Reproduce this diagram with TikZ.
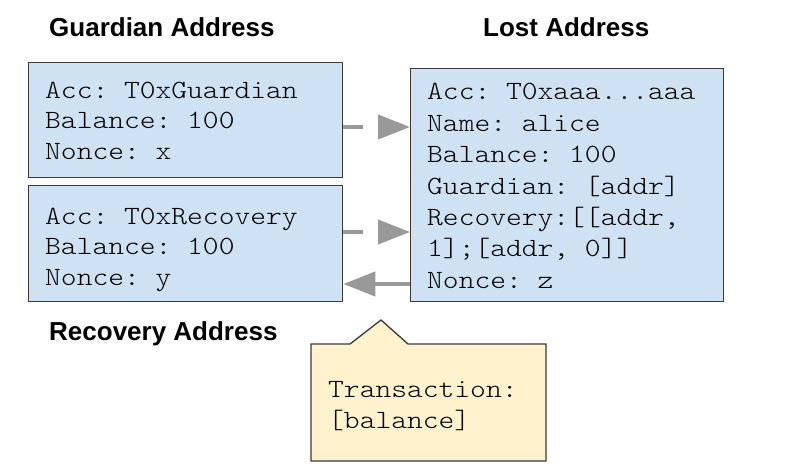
\documentclass[tikz,border=0pt]{standalone}
\usepackage{fontspec}
\setmainfont{Liberation Sans}
\setmonofont[FakeStretch=1.143]{Latin Modern Mono Light}
\usetikzlibrary{arrows.meta}
\definecolor{boxblue}{HTML}{CFE2F3}
\definecolor{boxline}{HTML}{3A3A3A}
\definecolor{noteyellow}{HTML}{FFF2CC}
\definecolor{arrowgray}{HTML}{999999}
\begin{document}
\begin{tikzpicture}[x=1pt,y=-1pt,
  acct/.style={draw=boxline, line width=1.3pt, fill=boxblue, anchor=north west, inner sep=0pt},
  txtline/.style={anchor=base west, inner sep=0pt, font=\fontsize{26.3}{31}\selectfont\ttfamily},
  heading/.style={anchor=base west, inner sep=0pt, font=\fontsize{26}{30}\selectfont\bfseries},
  link/.style={draw=arrowgray, line width=4pt, -{Triangle[length=32pt,width=24pt]}},
  dashlink/.style={link, dash pattern=on 20pt off 15pt},
]
\useasboundingbox (0,0) rectangle (800,470);
% boxes
\node[acct, minimum width=314pt, minimum height=115pt] (g) at (28,62) {};
\node[acct, minimum width=314pt, minimum height=116pt] (r) at (28,185) {};
\node[acct, minimum width=313pt, minimum height=233pt] (l) at (410,68) {};
% headings
\node[heading] (gt) at (49,37) {Guardian Address};
\node[heading] (lt) at (483,37) {Lost Address};
\node[heading] (rt) at (49,340) {Recovery Address};
% texts
\foreach \t [count=\i] in {Acc: T0xGuardian, Balance: 100, Nonce: x}
  \node[txtline] (g\i) at (45, 98.3+30.6*\i-30.6) {\t};
\foreach \t [count=\i] in {Acc: T0xRecovery, Balance: 100, Nonce: y}
  \node[txtline] (r\i) at (45, 224.5+30.4*\i-30.4) {\t};
\node[txtline] (l1) at (427, 100) {Acc: T0xaaa...aaa};
\foreach \t [count=\i from 2] in {Name: alice, Balance: 100, Guardian: [addr], {Recovery:[[addr,}, {1];[addr, 0]]}, Nonce: z}
  \node[txtline] (l\i) at (427, 100+31.4*\i-31.4) {\t};
% callout
\draw[draw=boxline, line width=1.3pt, fill=noteyellow]
  (311,344) -- (350,344) -- (381,320) -- (408,344) -- (546,344) -- (546,461) -- (311,461) -- cycle;
\coordinate (tip) at (381,320);
\node[txtline] (c1) at (328,397) {Transaction:};
\node[txtline] (c2) at (328,428) {[balance]};
% connectors
\coordinate (a1) at (g.east |- 0,127);
\coordinate (a2) at (r.east |- 0,232);
\coordinate (a3) at (l.west |- 0,284);
\draw[dashlink] (a1) -- (l.west |- a1);
\draw[dashlink] (a2) -- (l.west |- a2);
\draw[link] (a3) -- (r.east |- a3);
\end{tikzpicture}
\end{document}
